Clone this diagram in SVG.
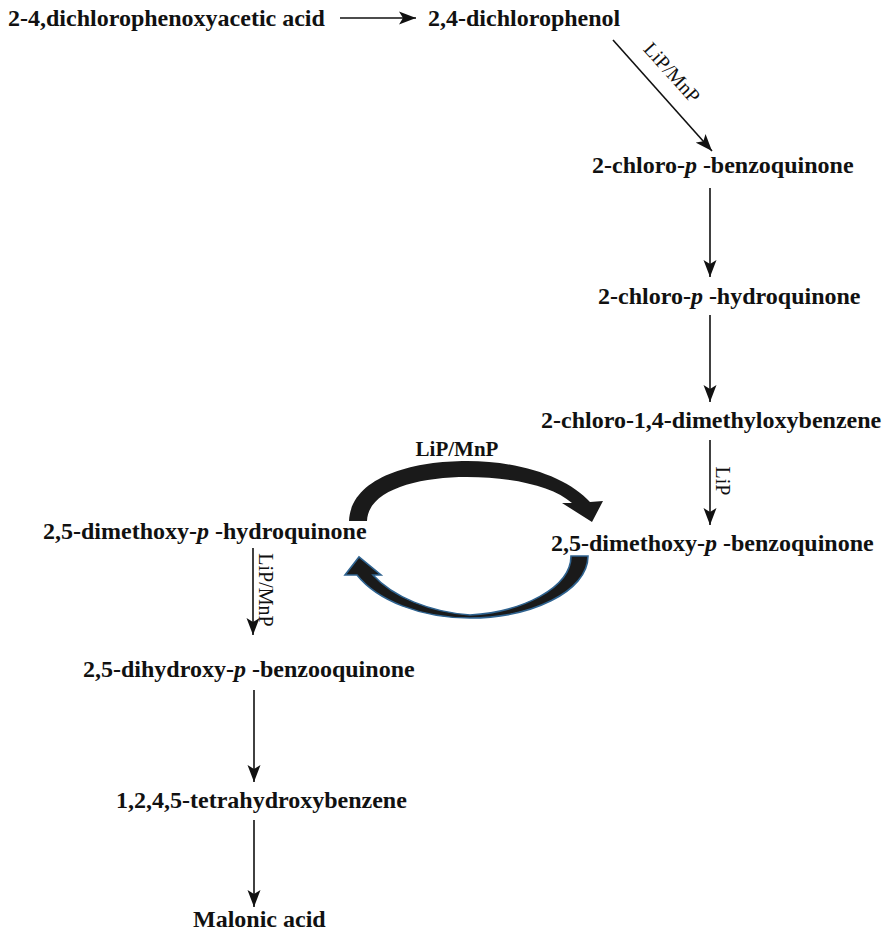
<svg xmlns="http://www.w3.org/2000/svg" width="895" height="932" viewBox="0 0 895 932">
<defs>
<marker id="ah" markerUnits="userSpaceOnUse" markerWidth="18" markerHeight="14" refX="17" refY="7" orient="auto">
<path d="M0,0.5 L17,7 L0,13.5 L4,7 Z" fill="#111"/>
</marker>
</defs>
<style>
.n{font-family:"Liberation Serif","Times New Roman",serif;font-weight:bold;font-size:24px;fill:#111}
.i{font-style:italic}
.l{font-family:"Liberation Serif","Times New Roman",serif;font-size:20px;fill:#111}
.lb{font-family:"Liberation Serif","Times New Roman",serif;font-weight:bold;font-size:21px;fill:#111}
.c{stroke:#111;stroke-width:1.6;fill:none;marker-end:url(#ah)}
</style>
<rect width="895" height="932" fill="#fff"/>
<g id="n1"><text class="n" x="8" y="26">2-4,dichlorophenoxyacetic acid</text></g>
<g id="n2"><text class="n" x="428" y="26">2,4-dichlorophenol</text></g>
<g id="n3"><text class="n" x="592" y="173">2-chloro-<tspan class="i">p</tspan> -benzoquinone</text></g>
<g id="n4"><text class="n" x="598" y="304">2-chloro-<tspan class="i">p</tspan> -hydroquinone</text></g>
<g id="n5"><text class="n" x="541" y="428">2-chloro-1,4-dimethyloxybenzene</text></g>
<g id="n6"><text class="n" x="551" y="551">2,5-dimethoxy-<tspan class="i">p</tspan> -benzoquinone</text></g>
<g id="n7"><text class="n" x="43" y="539">2,5-dimethoxy-<tspan class="i">p</tspan> -hydroquinone</text></g>
<g id="n8"><text class="n" x="83" y="677">2,5-dihydroxy-<tspan class="i">p</tspan> -benzooquinone</text></g>
<g id="n9"><text class="n" x="116" y="808">1,2,4,5-tetrahydroxybenzene</text></g>
<g id="n10"><text class="n" x="193" y="927">Malonic acid</text></g>
<g id="connectors">
<line class="c" x1="340" y1="18" x2="416" y2="18"/>
<line class="c" x1="613" y1="40" x2="712" y2="151"/>
<text class="l" transform="translate(667,77) rotate(48)" text-anchor="middle">LiP/MnP</text>
<line class="c" x1="710" y1="188" x2="710" y2="277"/>
<line class="c" x1="710" y1="315" x2="710" y2="402"/>
<line class="c" x1="710" y1="440" x2="710" y2="525"/>
<text class="l" transform="translate(716,481) rotate(90)" text-anchor="middle">LiP</text>
<line class="c" x1="253" y1="548" x2="253" y2="635"/>
<text class="l" transform="translate(259,590) rotate(90)" text-anchor="middle">LiP/MnP</text>
<line class="c" x1="254" y1="690" x2="254" y2="782"/>
<line class="c" x1="254" y1="820" x2="254" y2="907"/>
<path d="M349,521 C351,478 410,461 467,461 C522,461 568,478 590,502 L603,501 L592,522 L562,503 L572,503 C553,486 512,477 467,477 C418,477 368,490 367,521 Z" fill="#1a1a1a"/>
<text class="lb" x="457" y="456" text-anchor="middle">LiP/MnP</text>
<path d="M571,556 L588,556 C588,592 530,618 470,618 C420,618 377,600 357,575 L345,575 L359,557 L381,575 L373,575 C393,597 430,612 470,615 C522,612 571,588 571,556 Z" fill="#1a1a1a" stroke="#2f6390" stroke-width="1.6" stroke-linejoin="miter"/>
</g>
</svg>
